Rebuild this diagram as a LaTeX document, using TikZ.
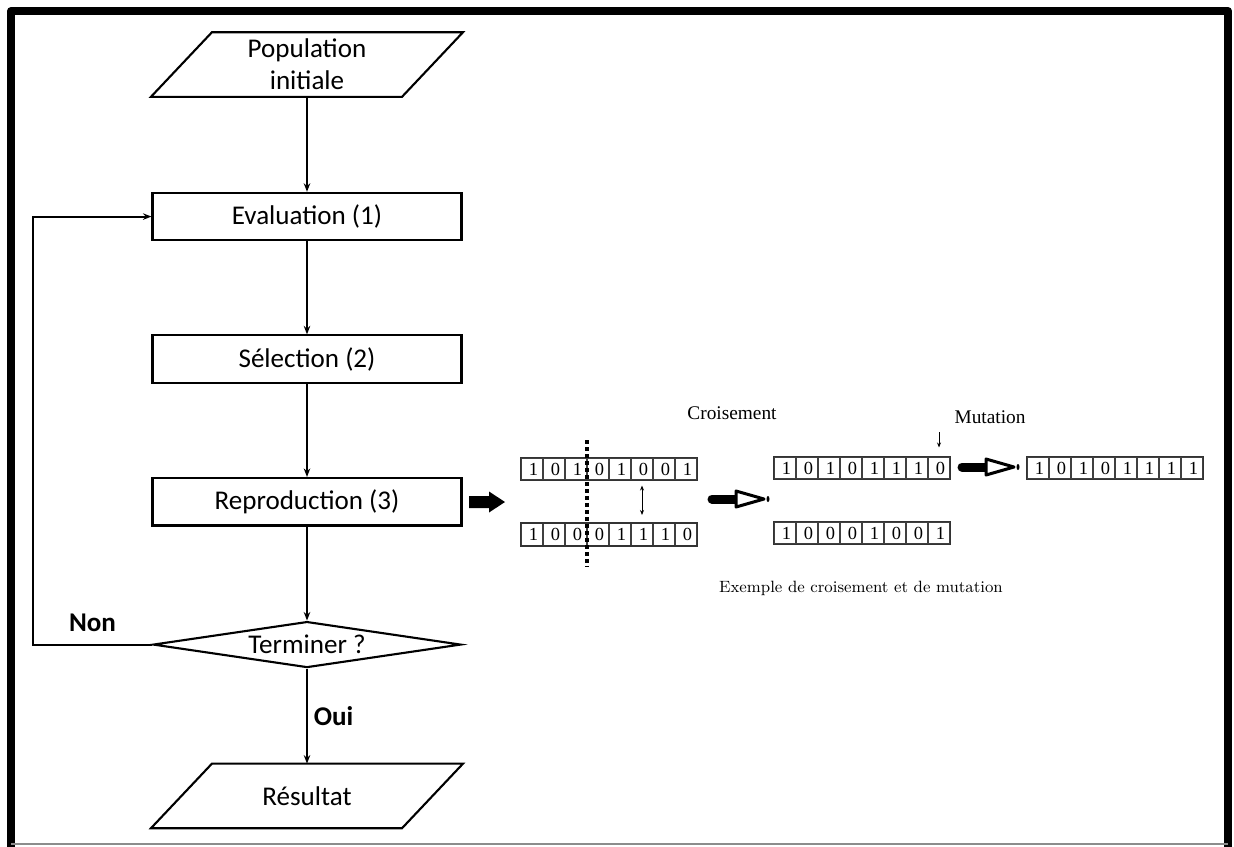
\documentclass[tikz,border=0pt]{standalone}
\usepackage{fontspec}
\newfontfamily\calibri{Carlito}
\newfontfamily\timesfont{Liberation Serif}
\usetikzlibrary{positioning, shapes.geometric, arrows.meta}

\tikzset{
    flowbox/.style={draw, line width=1.2pt, minimum width=6.18cm, minimum height=0.95cm,
        inner sep=0pt, font=\calibri\fontsize{15.4}{18.2}\selectfont},
    iobox/.style={flowbox, draw=none, minimum width=6.2cm, minimum height=1.25cm, align=center},
    iooutline/.style={line width=1.2pt, line join=miter},
    testbox/.style={flowbox, diamond, aspect=6.7, minimum width=6.16cm, minimum height=0.92cm},
    flow/.style={line width=1.1pt, -{Stealth[length=0.17cm, width=0.13cm]}},
    answer/.style={font=\calibri\bfseries\fontsize{15.4}{18}\selectfont},
    bitcell/.style={draw=black!75, line width=0.6pt, minimum width=0.44cm, minimum height=0.44cm,
        inner sep=0pt, font=\timesfont\fontsize{10.5}{10.5}\selectfont},
    bitframe/.style={draw=black!80, line width=0.9pt},
    legend/.style={font=\timesfont\fontsize{11}{12}\selectfont},
    caption/.style={font=\fontsize{9.3}{11}\selectfont},
    thinarrow/.style={line width=0.5pt, -{Stealth[length=0.1cm, width=0.08cm]}},
    swaparrow/.style={line width=0.5pt, {Stealth[length=0.1cm, width=0.08cm]}-{Stealth[length=0.1cm, width=0.08cm]}},
    hollowarrow/.pic={
        \draw[line width=0.18cm, line cap=round] (0,0) -- (24,0);
        \draw[line width=0.06cm, line join=round, fill=white] (24,-8) -- (52,0) -- (24,8) -- cycle;
        \fill (56,0) ellipse (0.03cm and 0.06cm);
    }
}

% une rangee de 8 bits
\newcommand{\bitrow}[4]{%
    \foreach \b [count=\i] in {#4}
        \node[bitcell] (#1\i) at ({#2+22*\i-11},#3) {\hspace{0.06cm}\b};
    \draw[bitframe] (#11.north west) rectangle (#18.south east);
}

\begin{document}
\begin{tikzpicture}[x=0.02cm, y=-0.02cm]
    \useasboundingbox (0,0) rectangle (1234,846);
    % cadre
    \draw[line width=0.16cm, line join=round] (11,860) -- (11,11) -- (1228,11) -- (1228,860);
    \draw[black!45, line width=0.05cm] (11,844) -- (1228,844);

    % organigramme
    \node[iobox] (pop) at (307,64.5) {Population\\initiale};
    \node[flowbox, below=1.9cm of pop] (eval) {Evaluation (1)};
    \node[flowbox, below=1.86cm of eval] (select) {Sélection (2)};
    \node[flowbox, below=1.86cm of select] (repro) {Reproduction (3)};
    \node[testbox, below=1.88cm of repro] (term) {Terminer ?};
    \node[iobox, below=1.9cm of term] (result) {Résultat};

    \draw[iooutline] ([xshift=1.22cm]pop.north west) -- (pop.north east)
        -- ([xshift=-1.22cm]pop.south east) -- (pop.south west) -- cycle;
    \draw[iooutline] ([xshift=1.22cm]result.north west) -- (result.north east)
        -- ([xshift=-1.22cm]result.south east) -- (result.south west) -- cycle;

    \draw[flow] (pop) -- (eval);
    \draw[flow] (eval) -- (select);
    \draw[flow] (select) -- (repro);
    \draw[flow] (repro) -- (term);
    \draw[flow] (term.west) -- node[answer, above=0.13cm] {Non} ++(-119,0) |- (eval.west);
    \draw[flow] (term) -- node[answer, right] {Oui} (result);

    % croisement et mutation
    \fill (469,496) -- (489,496) -- (489,491.5) -- (505,502) -- (489,512.5) -- (489,508) -- (469,508) -- cycle;

    \node[legend] (cross) at (732,413) {Croisement};
    \node[legend] (mut) at (990,417) {Mutation};

    \bitrow{pa}{521}{469}{1,0,1,0,1,0,0,1}
    \bitrow{pb}{521}{534.5}{1,0,0,0,1,1,1,0}
    \bitrow{ea}{774}{468}{1,0,1,0,1,1,1,0}
    \bitrow{eb}{774}{533}{1,0,0,0,1,0,0,1}
    \bitrow{m}{1027}{468}{1,0,1,0,1,1,1,1}

    \draw[line width=0.08cm, dash pattern=on 0.08cm off 0.06cm] (587,440) -- (587,567);
    \draw[swaparrow] ([yshift=-0.1cm]pa6.south) -- ([yshift=0.16cm]pb6.north);
    \draw[thinarrow] ([yshift=0.48cm]ea8.north) -- ([yshift=0.18cm]ea8.north);

    \pic at (712,499) {hollowarrow};
    \pic at (962,467) {hollowarrow};

    \node[caption] (capt) at (861,588) {Exemple de croisement et de mutation};
\end{tikzpicture}
\end{document}
